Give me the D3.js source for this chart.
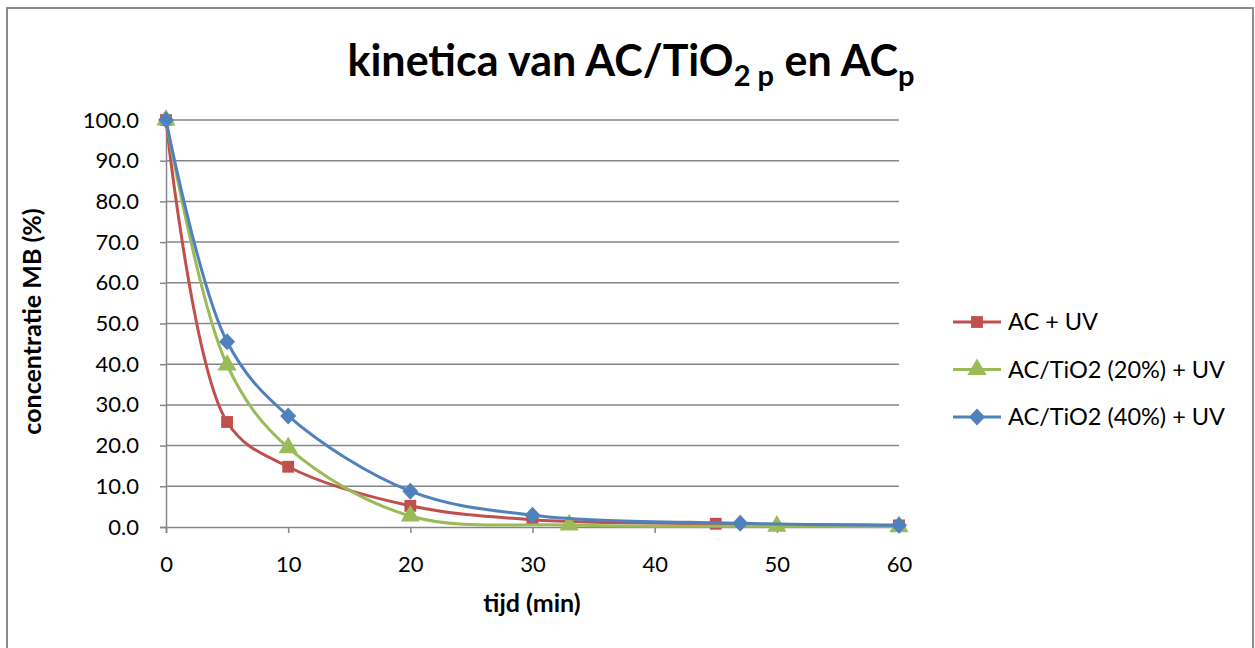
<!DOCTYPE html>
<html>
<head>
<meta charset="utf-8">
<script src="https://cdn.jsdelivr.net/npm/d3@7"></script>
<style>
  html, body { margin: 0; padding: 0; background: #fff; }
  svg { display: block; font-family: Lato, "Open Sans", sans-serif; }
</style>
</head>
<body>
<svg id="chart" width="1255" height="648"></svg>
<script>
// Tijd (min) en concentratie MB (%) per reeks
const timeAC = [0, 5, 10, 20, 30, 45, 60];
const concAC = [100, 25.8, 14.8, 5.2, 1.8, 0.8, 0.4];

const time20 = [0, 5, 10, 20, 33, 50, 60];
const conc20 = [100, 39.8, 19.5, 2.7, 0.5, 0.2, 0.1];

const time40 = [0, 5, 10, 20, 30, 47, 60];
const conc40 = [100, 45.5, 27.3, 8.8, 2.9, 0.9, 0.4];

const seriesNames = ["AC + UV", "AC/TiO2 (20%) + UV", "AC/TiO2 (40%) + UV"];
const seriesColors = ["#C0504D", "#9BBB59", "#4F81BD"];
const seriesSymbols = ["square", "triangle", "diamond"];

const xTicks = [0, 10, 20, 30, 40, 50, 60];
const yTicks = [0, 10, 20, 30, 40, 50, 60, 70, 80, 90, 100];

const series = [
  { x: timeAC, y: concAC },
  { x: time20, y: conc20 },
  { x: time40, y: conc40 }
].map((s, i) => ({
  name: seriesNames[i],
  color: seriesColors[i],
  symbol: seriesSymbols[i],
  points: s.x.map((t, j) => ({ t, c: s.y[j] }))
}));

const FONT = "Lato, 'Open Sans', sans-serif";
const svg = d3.select("#chart");

// Kader
svg.append("rect")
  .attr("x", 7).attr("y", 8).attr("width", 1246).attr("height", 660)
  .attr("fill", "#fff").attr("stroke", "#8c8c8c").attr("stroke-width", 2);

const plot = { left: 166, right: 899, top: 120, bottom: 527 };

const x = d3.scaleLinear().domain([0, 60]).range([plot.left, plot.right]);
const y = d3.scaleLinear().domain([0, 100]).range([plot.bottom, plot.top]);

// Rasterlijnen
svg.append("g")
  .selectAll("line")
  .data(yTicks.filter(v => v > 0))
  .join("line")
  .attr("x1", plot.left).attr("x2", plot.right)
  .attr("y1", d => y(d)).attr("y2", d => y(d))
  .attr("stroke", "#868686").attr("stroke-width", 1.5);

// Y-as
const yAxis = svg.append("g")
  .attr("transform", `translate(${plot.left},0)`)
  .call(d3.axisLeft(y).tickValues(yTicks).tickFormat(d3.format(".1f")).tickSize(6).tickPadding(21));
yAxis.select(".domain").attr("stroke", "#868686").attr("stroke-width", 1.5);
yAxis.selectAll(".tick line").attr("stroke", "#868686").attr("stroke-width", 1.5);
yAxis.selectAll(".tick text")
  .attr("font-size", 22).attr("fill", "#000").attr("font-family", FONT);

// X-as
const xAxis = svg.append("g")
  .attr("transform", `translate(0,${plot.bottom})`)
  .call(d3.axisBottom(x).tickValues(xTicks).tickFormat(d3.format("d")).tickSize(6).tickPadding(23));
xAxis.select(".domain").attr("stroke", "#868686").attr("stroke-width", 1.5);
xAxis.selectAll(".tick line").attr("stroke", "#868686").attr("stroke-width", 1.5);
xAxis.selectAll(".tick text")
  .attr("font-size", 22).attr("fill", "#000").attr("font-family", FONT);

// Astitels
svg.append("text")
  .attr("x", 532).attr("y", 612)
  .attr("text-anchor", "middle")
  .attr("font-size", 25).attr("font-weight", "bold")
  .text("tijd (min)");

svg.append("text")
  .attr("transform", `translate(41,${(plot.top + plot.bottom) / 2 - 2}) rotate(-90)`)
  .attr("text-anchor", "middle")
  .attr("font-size", 25).attr("font-weight", "bold")
  .text("concentratie MB (%)");

// Titel
const title = svg.append("text")
  .attr("x", 631).attr("y", 76)
  .attr("text-anchor", "middle")
  .attr("font-size", 43).attr("font-weight", "bold");
title.append("tspan").text("kinetica van AC/TiO");
title.append("tspan").attr("font-size", 29).attr("dy", 10).text("2 p");
title.append("tspan").attr("dy", -10).text(" en AC");
title.append("tspan").attr("font-size", 29).attr("dy", 10).text("p");

// Lijnen en markers
const line = d3.line()
  .x(d => x(d.t))
  .y(d => y(d.c))
  .curve(d3.curveCatmullRom.alpha(0.5));

const symbolSize = { square: 140, triangle: 160 };
const symbolType = { square: d3.symbolSquare, triangle: d3.symbolTriangle };

function symbolPath(s) {
  if (s === "diamond") {
    return "M0,-8.5L8,0L0,8.5L-8,0Z";
  }
  return d3.symbol().type(symbolType[s]).size(symbolSize[s])();
}

const gSeries = svg.append("g")
  .selectAll("g")
  .data(series)
  .join("g");

gSeries.append("path")
  .attr("d", d => line(d.points))
  .attr("fill", "none")
  .attr("stroke", d => d.color)
  .attr("stroke-width", 3);

gSeries.each(function (s) {
  d3.select(this).selectAll("path.marker")
    .data(s.points)
    .join("path")
    .attr("class", "marker")
    .attr("transform", d => `translate(${x(d.t)},${y(d.c)})`)
    .attr("d", symbolPath(s.symbol))
    .attr("fill", s.color);
});

// Legenda
const legend = svg.append("g")
  .selectAll("g")
  .data(series)
  .join("g")
  .attr("transform", (d, i) => `translate(953,${322 + i * 47.5})`);

legend.append("line")
  .attr("x1", 0).attr("x2", 48)
  .attr("stroke", d => d.color).attr("stroke-width", 3);
legend.append("path")
  .attr("transform", "translate(24,0)")
  .attr("d", d => symbolPath(d.symbol))
  .attr("fill", d => d.color);
legend.append("text")
  .attr("x", 55).attr("y", 0).attr("dy", "0.36em")
  .attr("font-size", 23.5).attr("font-family", FONT)
  .text(d => d.name);
</script>
</body>
</html>
